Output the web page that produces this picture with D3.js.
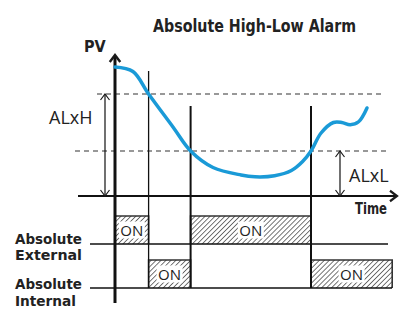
<!DOCTYPE html>
<html>
<head>
<meta charset="utf-8">
<script src="https://cdn.jsdelivr.net/npm/d3@7"></script>
<style>
  body { margin: 0; background: #fff; }
  svg { display: block; }
  .bold { font-family: "DejaVu Sans Condensed", "DejaVu Sans", sans-serif; font-weight: bold; fill: #222; }
  .reg { font-family: "Open Sans", sans-serif; fill: #222; }
</style>
</head>
<body>
<div id="container"></div>
<script>
// process value curve (time, PV)
const curveTime = [0, 6.4, 12, 20.7, 27, 35, 45, 50, 57, 63, 67, 70, 73.6, 78, 81, 84, 87, 90];
const curvePV   = [86, 83, 68, 46, 30, 19, 14, 12.8, 13.5, 17, 23, 30, 42, 49, 49, 47.5, 49.5, 58.7];

const alarmHigh = 68;
const alarmLow = 30;
const eventTimes = [12, 27, 70];
const externalOn = [[0, 12], [27, 70]];
const internalOn = [[12, 27], [70, 99]];
const rowNames = ["External", "Internal"];

const w = 403, h = 313;

const x = d3.scaleLinear().domain([0, 100]).range([115, 395]);
const y = d3.scaleLinear().domain([0, 100]).range([196, 46]);

const svg = d3.select("#container").append("svg")
    .attr("width", w).attr("height", h);

const defs = svg.append("defs");
const pat = defs.append("pattern")
    .attr("id", "hatch")
    .attr("patternUnits", "userSpaceOnUse")
    .attr("width", 3.5).attr("height", 3.5)
    .attr("patternTransform", "rotate(45)");
pat.append("rect").attr("width", 3.5).attr("height", 3.5).attr("fill", "#fff");
pat.append("line")
    .attr("x1", 0).attr("y1", 0).attr("x2", 0).attr("y2", 3.5)
    .attr("stroke", "#555").attr("stroke-width", 1.6);

function chevron(g, px, py, dir, size, sw) {
    // open arrow head, dir: up/down/right
    let pts;
    if (dir == "up") pts = [[px - size * 0.75, py + size], [px, py], [px + size * 0.75, py + size]];
    if (dir == "down") pts = [[px - size * 0.75, py - size], [px, py], [px + size * 0.75, py - size]];
    if (dir == "right") pts = [[px - size, py - size * 0.75], [px, py], [px - size, py + size * 0.75]];
    g.append("polyline")
        .attr("points", pts.map(p => p.join(",")).join(" "))
        .attr("fill", "none").attr("stroke", "#1a1a1a")
        .attr("stroke-width", sw).attr("stroke-linejoin", "miter");
}

// title
svg.append("text").attr("class", "bold")
    .attr("x", 153).attr("y", 32)
    .attr("font-size", 17)
    .attr("textLength", 203).attr("lengthAdjust", "spacingAndGlyphs")
    .text("Absolute High-Low Alarm");

// dashed alarm levels
svg.append("line")
    .attr("x1", 97).attr("x2", 385)
    .attr("y1", y(alarmHigh)).attr("y2", y(alarmHigh))
    .attr("stroke", "#777").attr("stroke-width", 1.3).attr("stroke-dasharray", "5,4");
svg.append("line")
    .attr("x1", 75).attr("x2", 387)
    .attr("y1", y(alarmLow)).attr("y2", y(alarmLow))
    .attr("stroke", "#777").attr("stroke-width", 1.3).attr("stroke-dasharray", "5,4");

// row timing boxes
const rowBase = [244, 288];
const rowTop = [216, 260];
const labelBase = [243.5, 289];
const labelWidth = [[67, 67], [67, 61]];
[externalOn, internalOn].forEach((spans, i) => {
    const g = svg.append("g");
    spans.forEach(s => {
        g.append("rect")
            .attr("x", x(s[0])).attr("y", rowTop[i])
            .attr("width", x(s[1]) - x(s[0]))
            .attr("height", rowBase[i] - rowTop[i])
            .attr("fill", "url(#hatch)");
        g.append("path")
            .attr("d", "M" + x(s[0]) + "," + rowBase[i] + "V" + rowTop[i] + "H" + x(s[1]) + "V" + rowBase[i])
            .attr("fill", "none").attr("stroke", "#333").attr("stroke-width", 1.6);
        const cx = (x(s[0]) + x(s[1])) / 2;
        const cy = (rowTop[i] + rowBase[i]) / 2;
        g.append("rect")
            .attr("x", cx - 13).attr("y", cy - 8.5)
            .attr("width", 26).attr("height", 17)
            .attr("fill", "#fff");
        g.append("text").attr("class", "reg")
            .attr("x", cx).attr("y", cy + 5.5)
            .attr("text-anchor", "middle")
            .attr("font-size", 15)
            .text("ON");
    });
    g.append("line")
        .attr("x1", 90).attr("x2", i == 0 ? 388 : 392)
        .attr("y1", rowBase[i]).attr("y2", rowBase[i])
        .attr("stroke", "#111").attr("stroke-width", 1.6);
    const lab = svg.append("text").attr("class", "bold")
        .attr("font-size", 14);
    ["Absolute", rowNames[i]].forEach((t, j) => {
        lab.append("tspan")
            .attr("x", 15).attr("y", labelBase[i] + j * 16.5)
            .attr("textLength", labelWidth[i][j]).attr("lengthAdjust", "spacingAndGlyphs")
            .text(t);
    });
});

// event lines
const eventTop = [71, 106, 106];
eventTimes.forEach((t, i) => {
    svg.append("line")
        .attr("x1", x(t)).attr("x2", x(t))
        .attr("y1", eventTop[i]).attr("y2", 288)
        .attr("stroke", "#111").attr("stroke-width", i == 0 ? 1.3 : 2);
});

// axes
svg.append("line")
    .attr("x1", 78).attr("x2", 396)
    .attr("y1", y(0)).attr("y2", y(0))
    .attr("stroke", "#111").attr("stroke-width", 2.2);
chevron(svg, 397, y(0), "right", 7, 2.2);
svg.append("line")
    .attr("x1", 115).attr("x2", 115)
    .attr("y1", 56).attr("y2", 303)
    .attr("stroke", "#111").attr("stroke-width", 3);
chevron(svg, 115, 55, "up", 7, 2.4);

svg.append("text").attr("class", "bold")
    .attr("x", 84).attr("y", 52).attr("font-size", 16).text("PV");
svg.append("text").attr("class", "bold")
    .attr("x", 355).attr("y", 214).attr("font-size", 16)
    .attr("textLength", 32).attr("lengthAdjust", "spacingAndGlyphs")
    .text("Time");

// ALxH / ALxL range arrows
function rangeArrow(px, v0, v1) {
    svg.append("line")
        .attr("x1", px).attr("x2", px)
        .attr("y1", y(v0)).attr("y2", y(v1))
        .attr("stroke", "#111").attr("stroke-width", 1.2);
    chevron(svg, px, y(v1), "up", 6, 1.2);
    chevron(svg, px, y(v0), "down", 6, 1.2);
}
rangeArrow(105, 0, alarmHigh);
rangeArrow(340, 0, alarmLow);
svg.append("text").attr("class", "reg")
    .attr("x", 49).attr("y", 124).attr("font-size", 18).text("ALxH");
svg.append("text").attr("class", "reg")
    .attr("x", 349).attr("y", 182).attr("font-size", 18).text("ALxL");

// PV curve
const line = d3.line()
    .x((d, i) => x(curveTime[i]))
    .y(d => y(d))
    .curve(d3.curveCatmullRom);
svg.append("path")
    .attr("d", line(curvePV))
    .attr("fill", "none")
    .attr("stroke", "#1a9ad7")
    .attr("stroke-width", 3.5)
    .attr("stroke-linecap", "round");
</script>
</body>
</html>
